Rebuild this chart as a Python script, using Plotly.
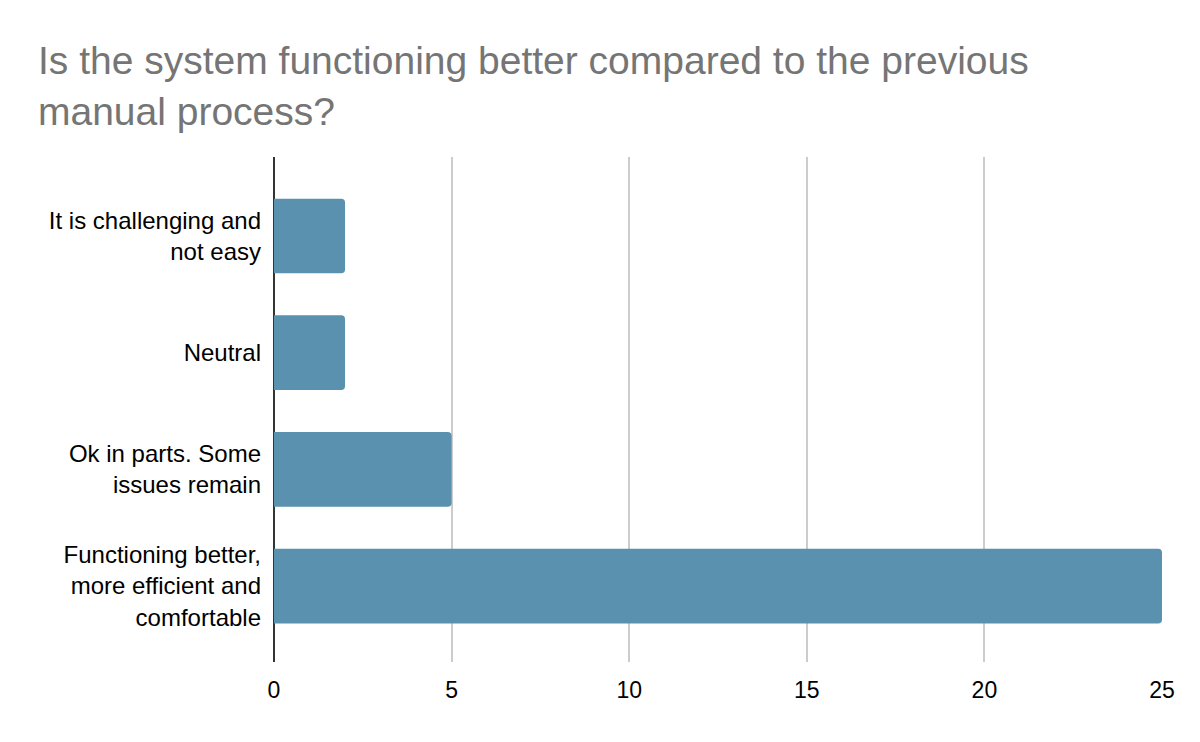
import plotly.graph_objects as go

categories = [
    "Functioning better,<br>more efficient and<br>comfortable",
    "Ok in parts. Some<br>issues remain",
    "Neutral",
    "It is challenging and<br>not easy",
]
values = [25, 5, 2, 2]
x_ticks = [0, 5, 10, 15, 20, 25]

fig = go.Figure(
    go.Bar(
        x=values,
        y=categories,
        orientation="h",
        width=0.64,
        marker=dict(color="#5A91AE", cornerradius=4, line=dict(width=0)),
    )
)

fig.update_layout(
    width=1200,
    height=742,
    paper_bgcolor="white",
    plot_bgcolor="white",
    margin=dict(l=266, r=46, t=149, b=88),
    showlegend=False,
    title=dict(
        text="Is the system functioning better compared to the previous<br>manual process?",
        x=30 / 1200,
        xanchor="left",
        xref="container",
        y=1 - 66 / 742,
        yanchor="top",
        yref="container",
        font=dict(family="Liberation Sans, Arial, sans-serif", size=39, color="#757575"),
    ),
    font=dict(family="Liberation Sans, Arial, sans-serif", color="#000000"),
)

fig.update_xaxes(
    range=[0, 25],
    tickvals=x_ticks,
    ticktext=[str(v) for v in x_ticks],
    showgrid=True,
    gridcolor="#CCCCCC",
    gridwidth=1.5,
    zeroline=True,
    zerolinecolor="#333333",
    zerolinewidth=2,
    showline=False,
    tickfont=dict(size=23, color="#000000"),
    ticks="",
    ticklabelstandoff=12,
)

fig.update_yaxes(
    type="category",
    categoryorder="array",
    categoryarray=categories,
    range=[-0.651, 3.677],
    showgrid=False,
    zeroline=False,
    showline=False,
    ticks="",
    tickfont=dict(size=24, color="#000000"),
    ticklabelstandoff=12,
)

fig.write_html("out.html")
